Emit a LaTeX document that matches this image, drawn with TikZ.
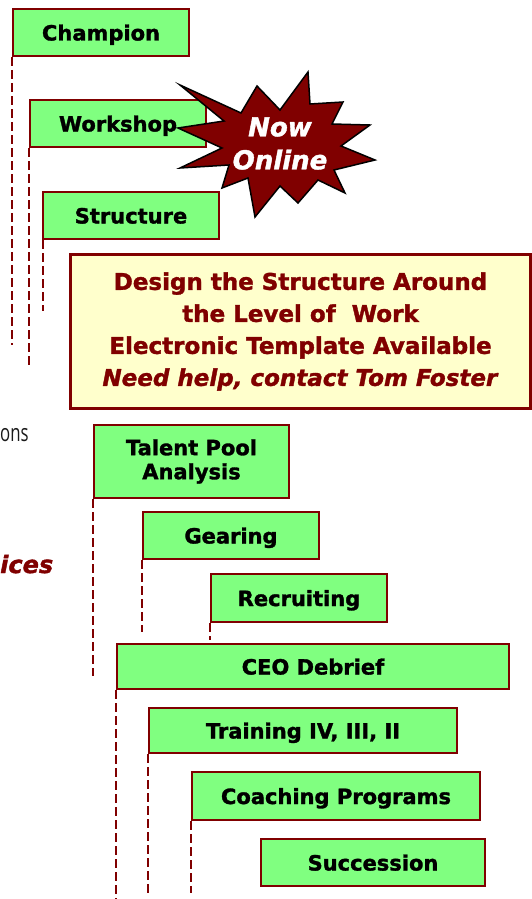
\documentclass[tikz,border=0pt]{standalone}
\usepackage{fontspec}
\setmainfont{DejaVu Sans}[BoldFeatures={FakeBold=1.5}, BoldItalicFeatures={FakeBold=1.5}]
\newfontfamily\sidefont{Open Sans}
\definecolor{maroon}{HTML}{800000}
\definecolor{boxgreen}{HTML}{80FF80}
\definecolor{noteyellow}{HTML}{FFFFCC}
\definecolor{sidegray}{HTML}{1A1A1A}
\tikzset{
  gbox/.style={draw=maroon, fill=boxgreen, line width=2pt, inner sep=0pt,
    anchor=north west, align=center,
    font=\fontsize{21}{24}\selectfont\bfseries},
  oneline/.style={text height=16pt, text depth=0pt},
  dline/.style={draw=maroon, line width=2pt, dash pattern=on 9pt off 4pt},
  notebox/.style={draw=maroon, fill=noteyellow, line width=3pt, inner sep=0pt,
    anchor=north west, align=center, text=maroon,
    font=\fontsize{23}{32}\selectfont\bfseries},
  burst/.style={fill=maroon, draw=black, line width=1.5pt, line join=miter},
}
\begin{document}
\begin{tikzpicture}[x=1pt, y=-1pt]
\useasboundingbox (0,0) rectangle (531,899);

% side text running in from the left margin
\node[anchor=base west, inner sep=0pt, text=sidegray,
      font=\sidefont\fontsize{24}{28}\selectfont] (sideA) at (0,441) {\scalebox{0.7}[1]{ons}};
\node[anchor=base west, inner sep=0pt, text=maroon,
      font=\fontsize{24}{30}\selectfont\bfseries\itshape] (sideB) at (0,573) {ices};

% upper group
\node[gbox, oneline, minimum width=176pt, minimum height=47pt] (champ) at (12,8) {Champion};
\node[gbox, oneline, minimum width=176pt, minimum height=47pt] (work) at (29,99) {Workshop};
\node[gbox, oneline, minimum width=176pt, minimum height=47pt] (struct) at (42,191) {Structure};

\coordinate (champEnd) at (12,345);
\coordinate (workEnd) at (29,366);
\coordinate (structEnd) at (43,311);
\draw[dline] (champ.south west) -- (champEnd);
\draw[dline] (work.south west) -- (workEnd);
\draw[dline] ([xshift=1pt]struct.south west) -- (structEnd);

% "Now Online" burst
\draw[burst] (180,85) -- (241,113) -- (257,86) -- (280,110) -- (308,72)
  -- (310,104) -- (343,102) -- (332,124) -- (370,125) -- (341,146)
  -- (375,160) -- (334,170) -- (345,193) -- (318,180) -- (298,203)
  -- (280,186) -- (255,217) -- (248,178) -- (222,188) -- (229,165)
  -- (180,168) -- (222,148) -- (178,128) -- (224,121) -- cycle;
\node[align=center, text=white, inner sep=0pt,
      font=\fontsize{26}{33}\selectfont\bfseries\itshape] (online) at (280,143.5) {Now\\Online};

% note box
\node[notebox, minimum width=460pt, minimum height=154pt] (note) at (69,253)
  {Design the Structure Around\\the Level of\ \ Work\\Electronic Template Available\\\textit{Need help, contact Tom Foster}};

% lower group
\node[gbox, minimum width=195pt, minimum height=73pt] (talent) at (93,424) {Talent Pool\\Analysis};
\node[gbox, oneline, minimum width=176pt, minimum height=47pt] (gear) at (142,511) {Gearing};
\node[gbox, oneline, minimum width=176pt, minimum height=48pt] (recruit) at (210,573) {Recruiting};
\node[gbox, oneline, minimum width=392pt, minimum height=45pt] (ceo) at (116,643) {CEO Debrief};
\node[gbox, oneline, minimum width=308pt, minimum height=45pt] (train) at (148,707) {Training IV, III, II};
\node[gbox, oneline, minimum width=288pt, minimum height=48pt] (coach) at (191,771) {Coaching Programs};
\node[gbox, oneline, minimum width=224pt, minimum height=47pt] (succ) at (260,838) {Succession};

\coordinate (talentEnd) at (93,676);
\coordinate (gearEnd) at (142,632);
\coordinate (recruitEnd) at (210,640);
\coordinate (ceoEnd) at (116,899);
\coordinate (trainEnd) at (148,893);
\coordinate (coachEnd) at (191,893);
\draw[dline] (talent.south west) -- (talentEnd);
\draw[dline] (gear.south west) -- (gearEnd);
\draw[dline] (recruit.south west) -- (recruitEnd);
\draw[dline] (ceo.south west) -- (ceoEnd);
\draw[dline] (train.south west) -- (trainEnd);
\draw[dline] (coach.south west) -- (coachEnd);
\end{tikzpicture}
\end{document}
